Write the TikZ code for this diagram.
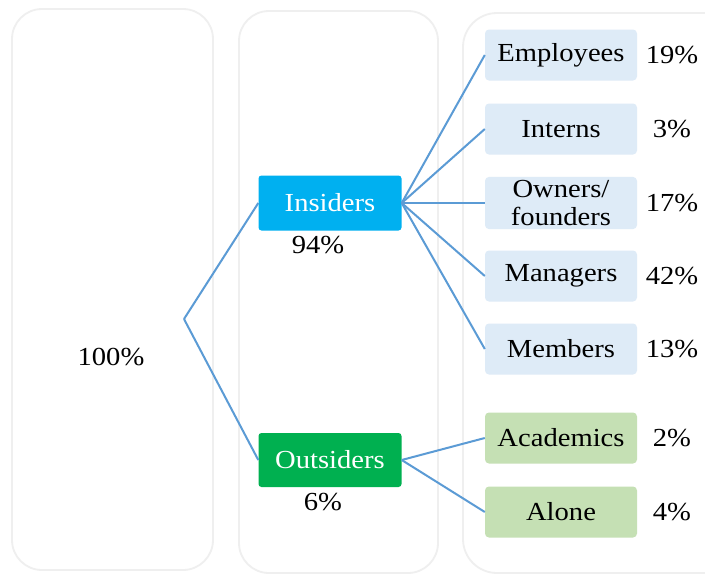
\documentclass[tikz,border=0pt]{standalone}
\usepackage{fontspec}
\setmainfont[FakeStretch=1.1]{Liberation Serif}
\usetikzlibrary{positioning}

\definecolor{colgray}{HTML}{EFEFEF}
\definecolor{linkblue}{HTML}{5B9BD5}
\definecolor{insblue}{HTML}{00B0F0}
\definecolor{outgreen}{HTML}{00B050}
\definecolor{catblue}{HTML}{DEEBF7}
\definecolor{catgreen}{HTML}{C5E0B4}

\tikzset{
  column/.style={draw=colgray,line width=1.8pt,rounded corners=30pt},
  groupbox/.style={minimum width=143pt,minimum height=55pt,rounded corners=3pt,text=white},
  catbox/.style={minimum width=152pt,minimum height=51pt,rounded corners=4pt,align=center},
  link/.style={draw=linkblue,line width=2pt}
}

\begin{document}
\begin{tikzpicture}[x=1pt,y=-1pt,font=\fontsize{26}{28}\selectfont]
  \useasboundingbox[fill=white] (0,0) rectangle (705,574);
  % background columns
  \draw[column] (12,9) rectangle (213,570);
  \draw[column] (239,11) rectangle (438,573);
  \draw[column,rounded corners=34pt] (463,13) rectangle (745,573);

  \node (total) at (111,357) {100\%};
  \coordinate (split) at (184,319);

  \node[groupbox,fill=insblue] (ins) at (330,203) {Insiders};
  \node[below=2pt of ins,xshift=-12pt] (inspct) {94\%};
  \node[groupbox,fill=outgreen,minimum height=54pt] (out) at (330,460) {Outsiders};
  \node[below=2pt of out,xshift=-7pt] (outpct) {6\%};

  \draw[link] (split) -- (ins.west);
  \draw[link] (split) -- (out.west);

  % categories
  \foreach \nm/\txt/\y/\p/\col in {emp/Employees/55/19\%/catblue,
      int/Interns/129/3\%/catblue,
      own/{Owners/\\founders}/203/17\%/catblue,
      man/Managers/276/42\%/catblue,
      mem/Members/349/13\%/catblue,
      aca/Academics/438/2\%/catgreen,
      alo/Alone/512/4\%/catgreen}{
    \node[catbox,fill=\col] (\nm) at (561,\y) {\txt};
    \node (\nm pct) at (672,\y) {\p};
  }

  \foreach \nm in {emp,int,own,man,mem}
    \draw[link] (ins.east) -- (\nm.west);
  \foreach \nm in {aca,alo}
    \draw[link] (out.east) -- (\nm.west);
\end{tikzpicture}
\end{document}
